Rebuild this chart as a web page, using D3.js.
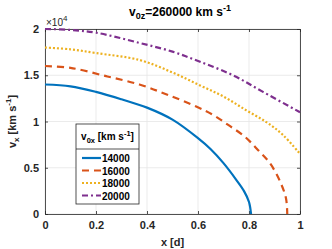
<!DOCTYPE html>
<html>
<head>
<meta charset="utf-8">
<script src="https://cdn.jsdelivr.net/npm/d3@7"></script>
<style>
body { margin: 0; background: #fff; }
text { font-family: "Liberation Sans", Arial, sans-serif; }
</style>
</head>
<body>
<div id="svg-area"></div>
<script>
var svgWidth = 332;
var svgHeight = 249;

// values (v_x in units of 1e4 km/s)
var x14000 = [0, 0.1, 0.2, 0.3, 0.4, 0.5, 0.6, 0.65, 0.7, 0.75, 0.78, 0.8, 0.808];
var v14000 = [1.40, 1.38, 1.32, 1.24, 1.15, 1.02, 0.82, 0.70, 0.55, 0.37, 0.25, 0.13, 0];

var x16000 = [0, 0.1, 0.24, 0.37, 0.48, 0.595, 0.66, 0.72, 0.784, 0.836, 0.882, 0.922, 0.945, 0.95];
var v16000 = [1.60, 1.58, 1.49, 1.40, 1.29, 1.16, 1.07, 0.96, 0.835, 0.69, 0.55, 0.35, 0.17, 0];

var x18000 = [0, 0.1, 0.2, 0.37, 0.5, 0.608, 0.7, 0.79, 0.87, 0.935, 1.0];
var v18000 = [1.80, 1.78, 1.74, 1.665, 1.53, 1.39, 1.27, 1.12, 0.99, 0.85, 0.65];

var x20000 = [0, 0.1, 0.2, 0.37, 0.5, 0.608, 0.737, 0.855, 1.0];
var v20000 = [2.00, 1.99, 1.96, 1.85, 1.755, 1.646, 1.50, 1.32, 1.10];

var seriesNames = ["14000", "16000", "18000", "20000"];
var seriesX = [x14000, x16000, x18000, x20000];
var seriesV = [v14000, v16000, v18000, v20000];
var colors = ["#0072BD", "#D95319", "#EDB120", "#7E2F8E"];
var dashes = [null, "7,5", "2,2", "6,3,2,3"];

var xTicks = [0, 0.2, 0.4, 0.6, 0.8, 1];
var yTicks = [0, 0.5, 1, 1.5, 2];

var margin = {left: 45, right: 32, top: 29, bottom: 35};
var w = svgWidth - margin.left - margin.right;
var h = svgHeight - margin.top - margin.bottom;

var svg = d3.select("#svg-area")
  .append("svg")
  .attr("width", svgWidth)
  .attr("height", svgHeight);

var g = svg.append("g")
  .attr("transform", "translate(" + margin.left + "," + margin.top + ")");

var xScale = d3.scaleLinear().domain([0, 1]).range([0, w]);
var yScale = d3.scaleLinear().domain([0, 2]).range([h, 0]);

// grid
g.selectAll(".gx").data(xTicks).enter().append("line")
  .attr("x1", d => xScale(d)).attr("x2", d => xScale(d))
  .attr("y1", 0).attr("y2", h)
  .attr("stroke", "#e6e6e6").attr("stroke-width", 0.8);
g.selectAll(".gy").data(yTicks).enter().append("line")
  .attr("x1", 0).attr("x2", w)
  .attr("y1", d => yScale(d)).attr("y2", d => yScale(d))
  .attr("stroke", "#e6e6e6").attr("stroke-width", 0.8);

// axes
var xAxis = g.append("g")
  .attr("transform", "translate(0," + h + ")")
  .call(d3.axisBottom(xScale).tickValues(xTicks).tickSizeInner(-3).tickSizeOuter(0).tickPadding(7).tickFormat(d3.format("~g")));
var xAxisTop = g.append("g")
  .call(d3.axisTop(xScale).tickValues(xTicks).tickSizeInner(-3).tickSizeOuter(0).tickFormat(""));
var yAxis = g.append("g")
  .call(d3.axisLeft(yScale).tickValues(yTicks).tickSizeInner(-3).tickSizeOuter(0).tickPadding(6).tickFormat(d3.format("~g")));
var yAxisRight = g.append("g")
  .attr("transform", "translate(" + w + ",0)")
  .call(d3.axisRight(yScale).tickValues(yTicks).tickSizeInner(-3).tickSizeOuter(0).tickFormat(""));

[xAxis, xAxisTop, yAxis, yAxisRight].forEach(function(a) {
  a.select(".domain").attr("stroke", "#262626").attr("stroke-width", 0.8);
  a.selectAll(".tick line").attr("stroke", "#262626").attr("stroke-width", 0.8);
  a.selectAll(".tick text").attr("fill", "#262626")
    .style("font-size", "11px").style("font-weight", "bold");
});

// lines
seriesNames.forEach(function(name, i) {
  var pts = seriesX[i].map((x, j) => [x, seriesV[i][j]]);
  g.append("path")
    .attr("fill", "none")
    .attr("stroke", colors[i])
    .attr("stroke-width", 2.2)
    .attr("stroke-dasharray", dashes[i])
    .attr("d", d3.line().x(d => xScale(d[0])).y(d => yScale(d[1])).curve(d3.curveCatmullRom)(pts));
});

// title
var title = svg.append("text")
  .attr("x", 180).attr("y", 16)
  .attr("text-anchor", "middle")
  .style("font-size", "12px").style("font-weight", "bold").attr("fill", "#000");
title.append("tspan").text("v");
title.append("tspan").attr("dy", 3).style("font-size", "9px").text("0z");
title.append("tspan").attr("dy", -3).text("=260000 km s");
title.append("tspan").attr("dy", -5).style("font-size", "9px").text("-1");

// exponent label
var expo = svg.append("text")
  .attr("x", margin.left + 1).attr("y", 26)
  .style("font-size", "10px").attr("fill", "#262626");
expo.append("tspan").text("\u00d710");
expo.append("tspan").attr("dy", -5).style("font-size", "8px").text("4");

// x label
svg.append("text")
  .attr("x", margin.left + w / 2).attr("y", 246)
  .attr("text-anchor", "middle")
  .style("font-size", "11px").style("font-weight", "bold").attr("fill", "#262626")
  .text("x [d]");

// y label
var ylab = svg.append("text")
  .attr("transform", "translate(16," + (margin.top + h / 2) + ") rotate(-90)")
  .attr("text-anchor", "middle")
  .style("font-size", "11px").style("font-weight", "bold").attr("fill", "#262626");
ylab.append("tspan").text("v");
ylab.append("tspan").attr("dy", 3).style("font-size", "8px").text("x");
ylab.append("tspan").attr("dy", -3).text(" [km s");
ylab.append("tspan").attr("dy", -5).style("font-size", "8px").text("-1");
ylab.append("tspan").attr("dy", 5).text("]");

// legend
var lg = svg.append("g").attr("transform", "translate(76,124)");
lg.append("rect").attr("width", 63).attr("height", 80)
  .attr("fill", "#fff").attr("stroke", "#262626").attr("stroke-width", 0.8);
lg.append("line").attr("x1", 0).attr("x2", 63).attr("y1", 25).attr("y2", 25)
  .attr("stroke", "#262626").attr("stroke-width", 0.8);
var lh = lg.append("text").attr("x", 31.5).attr("y", 16).attr("text-anchor", "middle")
  .style("font-size", "10px").style("font-weight", "bold").attr("fill", "#000");
lh.append("tspan").text("v");
lh.append("tspan").attr("dy", 3).style("font-size", "7.5px").text("0x");
lh.append("tspan").attr("dy", -3).text(" [km s");
lh.append("tspan").attr("dy", -4).style("font-size", "7.5px").text("-1");
lh.append("tspan").attr("dy", 4).text("]");

seriesNames.forEach(function(name, i) {
  var yy = 34 + i * 12.5;
  lg.append("line")
    .attr("x1", 6).attr("x2", 25).attr("y1", yy).attr("y2", yy)
    .attr("stroke", colors[i]).attr("stroke-width", 2.2)
    .attr("stroke-dasharray", dashes[i]);
  lg.append("text").attr("x", 26).attr("y", yy + 4)
    .style("font-size", "10px").style("font-weight", "bold").attr("fill", "#000")
    .text(name);
});
</script>
</body>
</html>
